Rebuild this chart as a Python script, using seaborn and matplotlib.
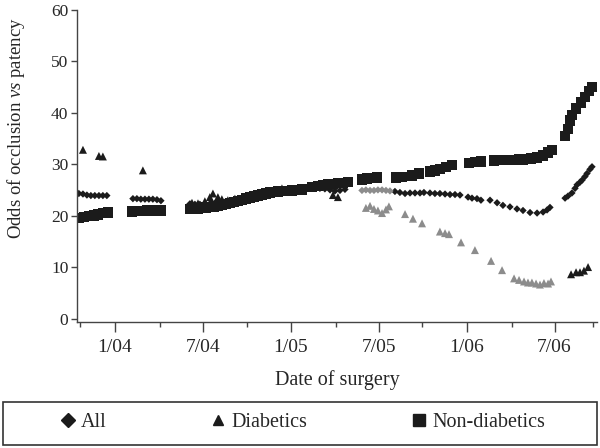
import matplotlib as mpl
mpl.use("Agg")
import matplotlib.pyplot as plt
from matplotlib.lines import Line2D
from matplotlib.patches import Rectangle
import numpy as np
import pandas as pd
import seaborn as sns

# x = months since 1/2004, y = odds of occlusion vs patency
nondiab_month = [-2.46, -2.12, -1.77, -1.43, -1.16, -0.82, -0.48,
                 1.16, 1.50, 1.84, 2.18, 2.53, 2.87, 3.14,
                 5.12, 5.39, 5.67, 5.94, 6.21, 6.48, 6.76, 7.03, 7.30, 7.58, 7.85,
                 8.12, 8.40, 8.67, 8.94, 9.22, 9.49, 9.76, 10.03, 10.31, 10.58, 10.85,
                 11.13, 11.47, 12.08, 12.42, 12.76,
                 13.45, 13.86, 14.20, 14.54, 14.88, 15.22, 15.56, 15.90,
                 16.86, 17.20, 17.54, 17.88,
                 19.18, 19.59, 20.27, 20.75,
                 21.50, 21.84, 22.18, 22.59, 23.00,
                 24.16, 24.57, 24.98,
                 25.87, 26.21, 26.55, 26.89, 27.24, 27.58, 27.85,
                 28.40, 28.81, 29.22, 29.56, 29.83,
                 30.72, 30.92, 31.06, 31.19, 31.47, 31.81, 32.08, 32.35, 32.56]
nondiab_odds = [19.5, 19.7, 19.9, 20.0, 20.2, 20.5, 20.6,
                20.8, 20.9, 20.9, 21.0, 21.0, 21.0, 21.0,
                21.3, 21.3, 21.4, 21.5, 21.6, 21.7, 21.8, 21.9, 22.1, 22.3, 22.5,
                22.7, 22.9, 23.1, 23.3, 23.5, 23.7, 23.9, 24.1, 24.3, 24.5, 24.6,
                24.7, 24.8, 24.9, 25.0, 25.1,
                25.5, 25.8, 26.0, 26.1, 26.2, 26.3, 26.4, 26.5,
                27.0, 27.2, 27.3, 27.4,
                27.4, 27.5, 27.8, 28.2,
                28.6, 28.8, 29.0, 29.4, 29.8,
                30.2, 30.4, 30.5,
                30.7, 30.8, 30.8, 30.8, 30.8, 30.9, 30.9,
                31.1, 31.3, 31.7, 32.3, 32.8,
                35.5, 36.8, 38.5, 39.5, 40.8, 42.0, 43.0, 44.2, 45.0]

all_month = [-2.46, -2.18, -1.91, -1.64, -1.37, -1.09, -0.82, -0.55,
             1.23, 1.50, 1.77, 2.05, 2.32, 2.59, 2.87, 3.14,
             5.12, 5.46, 5.80, 6.14, 6.48, 6.83, 7.17, 7.51, 7.85, 8.19, 8.53,
             8.87, 9.22, 9.56, 9.90, 10.24, 10.58, 10.92, 11.26, 11.60, 11.95,
             12.29, 12.63, 12.97, 13.31, 13.65,
             13.99, 14.33, 14.68, 15.02, 15.36, 15.70,
             16.86, 17.13, 17.41, 17.68, 17.95, 18.23, 18.50, 18.77,
             19.11, 19.45, 19.80, 20.14, 20.48, 20.82, 21.09,
             21.50, 21.84, 22.18, 22.53, 22.87, 23.21, 23.55,
             24.10, 24.37, 24.71, 24.98,
             25.60, 26.08, 26.48, 26.96, 27.44, 27.85, 28.33, 28.81, 29.22, 29.49, 29.69,
             30.72, 30.92, 31.19, 31.40, 31.54, 31.74, 31.88, 32.08, 32.22, 32.42, 32.56]
all_odds = [24.3, 24.2, 24.0, 23.9, 23.9, 23.9, 23.9, 23.9,
            23.3, 23.3, 23.2, 23.2, 23.2, 23.2, 23.1, 22.9,
            22.3, 22.2, 22.2, 22.3, 22.3, 22.4, 22.5, 22.6, 22.8, 23.0, 23.3,
            23.5, 23.7, 23.9, 24.1, 24.3, 24.5, 24.6, 24.8, 24.9, 25.0,
            25.1, 25.2, 25.3, 25.4, 25.4,
            25.3, 25.2, 25.0, 24.8, 24.9, 25.1,
            24.9, 25.0, 24.9, 24.9, 25.0, 25.0, 24.9, 24.8,
            24.7, 24.5, 24.3, 24.4, 24.4, 24.4, 24.5,
            24.4, 24.3, 24.3, 24.2, 24.1, 24.1, 24.0,
            23.6, 23.4, 23.3, 23.0,
            23.0, 22.5, 22.0, 21.7, 21.3, 21.0, 20.6, 20.5, 20.7, 21.1, 21.6,
            23.4, 23.8, 24.4, 25.3, 26.0, 26.5, 26.9, 27.6, 28.2, 29.0, 29.5]

diab_month = [-2.18, -1.09, -0.82, 1.91,
              5.26, 5.67, 6.14, 6.48, 6.69, 7.03, 7.30, 7.71, 8.19, 8.67, 9.22,
              9.69, 10.03, 10.38, 10.72, 10.99, 11.40,
              14.88, 15.22,
              17.13, 17.41, 17.68, 17.95, 18.23, 18.50, 18.70,
              19.80, 20.34, 20.96, 22.18, 22.53, 22.80, 23.62, 24.57, 25.67, 26.42,
              27.24, 27.58, 27.92, 28.19, 28.46, 28.74, 29.01, 29.28, 29.56, 29.76,
              31.13, 31.47, 31.74, 32.01, 32.29]
diab_odds = [32.8, 31.6, 31.5, 28.8,
             22.5, 22.4, 22.8, 23.6, 24.3, 23.6, 23.2, 23.0, 23.3, 23.5, 23.8,
             24.2, 24.4, 24.6, 24.8, 25.0, 25.3,
             24.0, 23.6,
             21.5, 21.9, 21.3, 21.0, 20.5, 21.2, 21.8,
             20.3, 19.4, 18.5, 16.9, 16.6, 16.4, 14.8, 13.3, 11.2, 9.4,
             7.8, 7.5, 7.2, 7.0, 7.0, 6.8, 6.6, 6.9, 6.8, 7.2,
             8.6, 9.0, 9.0, 9.3, 10.0]

tick_pos = [0, 6, 12, 18, 24, 30]
tick_labels = ["1/04", "7/04", "1/05", "7/05", "1/06", "7/06"]
minor_pos = [-2.4, 3.07, 9.0, 15.09, 20.96, 27.1, 32.63]
y_ticks = [0, 10, 20, 30, 40, 50, 60]

sns.set_style("ticks")
plt.rcParams["font.family"] = ["Liberation Serif", "DejaVu Serif"]
plt.rcParams["mathtext.fontset"] = "custom"
plt.rcParams["mathtext.rm"] = "Liberation Serif"
plt.rcParams["mathtext.it"] = "Liberation Serif:italic"

dark = "#1b1b1b"
faded = "#8c8c8c"

nondiab = pd.DataFrame({"month": nondiab_month, "odds": nondiab_odds})
alls = pd.DataFrame({"month": all_month, "odds": all_odds})
diab = pd.DataFrame({"month": diab_month, "odds": diab_odds})

fig = plt.figure(figsize=(6, 4.48), dpi=100)
ax = fig.add_axes([0.128, 0.281, 0.867, 0.697])

sns.scatterplot(data=nondiab, x="month", y="odds", marker="s", s=55, color=dark,
                edgecolor="none", ax=ax, legend=False)

a_gray = alls["month"].between(16.5, 19.0)
sns.scatterplot(data=alls[~a_gray], x="month", y="odds", marker="D", s=14, color=dark,
                edgecolor="none", ax=ax, legend=False)
sns.scatterplot(data=alls[a_gray], x="month", y="odds", marker="D", s=14, color=faded,
                edgecolor="none", ax=ax, legend=False)

d_gray = diab["month"].between(17.0, 30.0)
sns.scatterplot(data=diab[~d_gray], x="month", y="odds", marker="^", s=33, color=dark,
                edgecolor="none", ax=ax, legend=False)
sns.scatterplot(data=diab[d_gray], x="month", y="odds", marker="^", s=33, color=faded,
                edgecolor="none", ax=ax, legend=False)

ax.set_xlim(-2.6, 32.9)
ax.set_ylim(-0.7, 60)
ax.set_xticks(tick_pos)
ax.set_xticklabels(tick_labels, fontsize=14)
ax.set_xticks(minor_pos, minor=True)
ax.set_yticks(y_ticks)
ax.set_yticklabels([str(v) for v in y_ticks], fontsize=12.5)
ax.tick_params(axis="x", which="major", length=7, width=1, color="#444444", pad=5)
ax.tick_params(axis="x", which="minor", length=3.5, width=1, color="#444444")
ax.tick_params(axis="y", length=4, width=1, color="#444444", pad=2)

sns.despine(ax=ax)
for side in ["left", "bottom"]:
    ax.spines[side].set_color("#444444")
    ax.spines[side].set_linewidth(1.0)

ax.set_xlabel("Date of surgery", fontsize=14.5, labelpad=10)
ax.set_ylabel("Odds of occlusion $\\mathit{vs}$ patency", fontsize=13.5)
ax.yaxis.set_label_coords(-0.096, 0.62)

fig.patches.append(Rectangle((0.005, 0.007), 0.99, 0.096, transform=fig.transFigure,
                             fill=False, edgecolor="#333333", linewidth=1.2))
handles = [
    Line2D([], [], marker="D", linestyle="none", color=dark, markersize=6.8),
    Line2D([], [], marker="^", linestyle="none", color=dark, markersize=7.5),
    Line2D([], [], marker="s", linestyle="none", color=dark, markersize=9),
]
fig.legend(handles, ["All", "Diabetics", "Non-diabetics"], loc="center",
           bbox_to_anchor=(0.505, 0.056), ncol=3, frameon=False, fontsize=14.5,
           handlelength=0.7, handletextpad=0.3, columnspacing=5.2)

fig.savefig("out.png", dpi=100)
